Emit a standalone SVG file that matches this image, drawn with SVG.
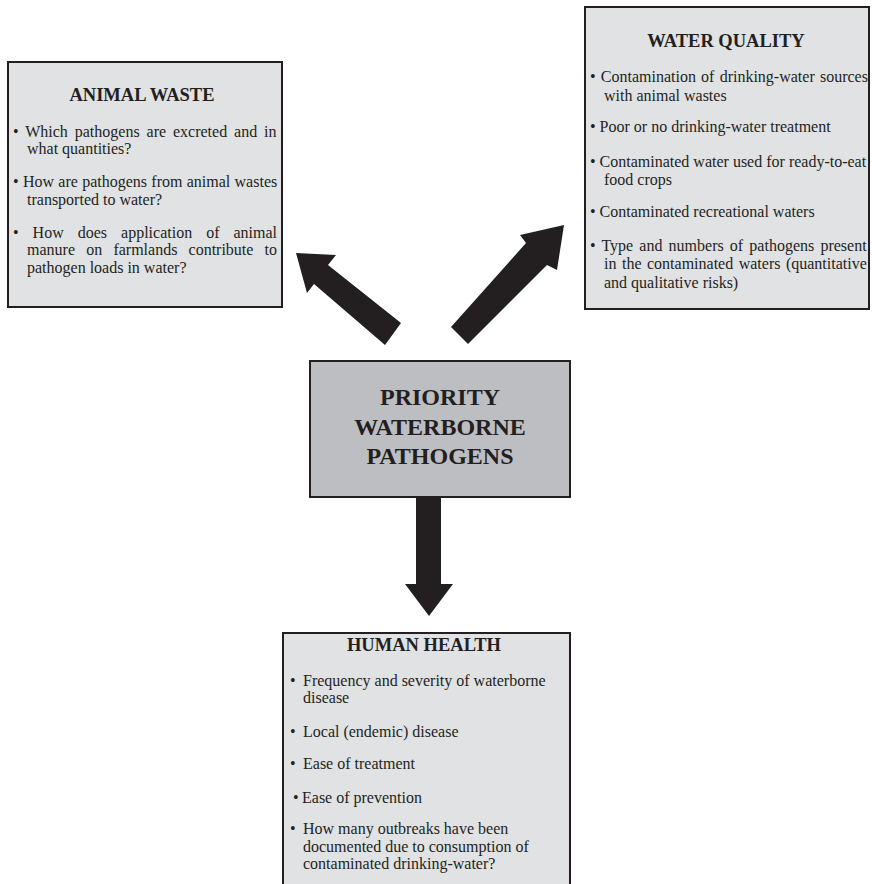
<svg xmlns="http://www.w3.org/2000/svg" width="872" height="884" viewBox="0 0 872 884">
<style>
.box{fill:#e1e2e4;stroke:#231f20;stroke-width:2}
.core{fill:#bdbec1;stroke:#231f20;stroke-width:2}
.t{font-family:"Liberation Serif","Times New Roman",serif;font-size:16px;fill:#231f20}
.h{font-family:"Liberation Serif","Times New Roman",serif;font-size:18.5px;font-weight:bold;fill:#231f20;text-anchor:middle}
.c{font-family:"Liberation Serif","Times New Roman",serif;font-size:24px;font-weight:bold;fill:#231f20;text-anchor:middle}
.arrow{fill:#231f20}
</style>
<rect width="872" height="884" fill="#ffffff"/>
<g id="connectors">
<polygon class="arrow" points="296,253 336,255 328,265 401,323 385,345 314,284 307,293"/>
<polygon class="arrow" points="564,225 520,235 526,243 451,327 468,344 547,265 557,270"/>
<polygon class="arrow" points="416,498 441,498 441,584 453,584 429,616 405,584 416,584"/>
</g>
<g id="animal-waste">
<rect class="box" x="8" y="62" width="274" height="245"/>
<text class="h" x="142" y="101">ANIMAL WASTE</text>
<text class="t" x="13" y="137" word-spacing="2.9">• Which pathogens are excreted and in</text>
<text class="t" x="27" y="154">what quantities?</text>
<text class="t" x="13" y="187" word-spacing="0.3">• How are pathogens from animal wastes</text>
<text class="t" x="27" y="205">transported to water?</text>
<text class="t" x="13" y="238" word-spacing="10">• How does application of animal</text>
<text class="t" x="27" y="255" word-spacing="7.2">manure on farmlands contribute to</text>
<text class="t" x="27" y="273">pathogen loads in water?</text>
</g>
<g id="water-quality">
<rect class="box" x="585" y="7" width="284" height="302"/>
<text class="h" x="726" y="47">WATER QUALITY</text>
<text class="t" x="590" y="82" word-spacing="1.2">• Contamination of drinking-water sources</text>
<text class="t" x="604" y="101">with animal wastes</text>
<text class="t" x="590" y="132">• Poor or no drinking-water treatment</text>
<text class="t" x="590" y="167">• Contaminated water used for ready-to-eat</text>
<text class="t" x="604" y="185">food crops</text>
<text class="t" x="590" y="217">• Contaminated recreational waters</text>
<text class="t" x="590" y="251" word-spacing="2.15">• Type and numbers of pathogens present</text>
<text class="t" x="604" y="269" word-spacing="1.5">in the contaminated waters (quantitative</text>
<text class="t" x="604" y="288">and qualitative risks)</text>
</g>
<g id="priority-pathogens">
<rect class="core" x="310" y="361" width="260" height="136"/>
<text class="c" x="440" y="405">PRIORITY</text>
<text class="c" x="440" y="435">WATERBORNE</text>
<text class="c" x="440" y="464">PATHOGENS</text>
</g>
<g id="human-health">
<rect class="box" x="283" y="633" width="287" height="270"/>
<text class="h" x="424" y="651">HUMAN HEALTH</text>
<text class="t" x="290" y="686">•</text><text class="t" x="303" y="686">Frequency and severity of waterborne</text>
<text class="t" x="303" y="703">disease</text>
<text class="t" x="290" y="737">•</text><text class="t" x="303" y="737">Local (endemic) disease</text>
<text class="t" x="290" y="769">•</text><text class="t" x="303" y="769">Ease of treatment</text>
<text class="t" x="293" y="803">•</text><text class="t" x="302" y="803">Ease of prevention</text>
<text class="t" x="290" y="834">•</text><text class="t" x="303" y="834">How many outbreaks have been</text>
<text class="t" x="303" y="852">documented due to consumption of</text>
<text class="t" x="303" y="869">contaminated drinking-water?</text>
</g>
</svg>
